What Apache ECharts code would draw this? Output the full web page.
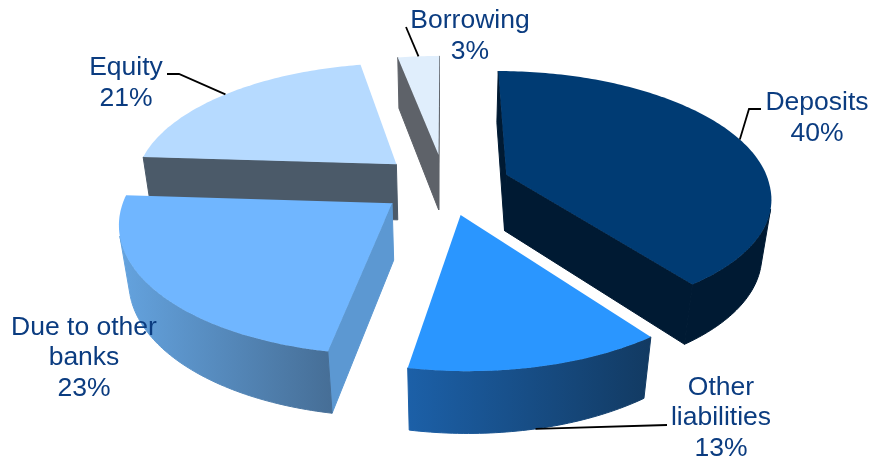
<!DOCTYPE html>
<html>
<head>
<meta charset="utf-8">
<style>html,body{margin:0;padding:0;background:#fff}#chart{width:871px;height:460px}</style>
<script src="https://cdn.jsdelivr.net/npm/echarts@6/dist/echarts.min.js"></script>
</head>
<body>
<div id="chart"></div>
<script>
// Funding mix, in percent, clockwise from twelve o'clock
const categories = ['Deposits', 'Other\nliabilities', 'Due to other\nbanks', 'Equity', 'Borrowing'];
const shares = [40, 13, 23, 21, 3];

// Fill colours per slice
const topColors = ['#003B73', '#2A96FF', '#70B6FF', '#B6DAFF', '#E0EEFC'];
const cutColors = ['#001A33', '#1C5FA3', '#5C98D2', '#4B5A69', '#5E6269'];
const rimFrom = ['#001A33', '#1C60A8', '#64A3DF', '#4B5A69', '#5E6269'];
const rimTo = ['#001A33', '#123A62', '#466E96', '#4B5A69', '#5E6269'];

// Label centre and leader elbow for each slice
const labelLayout = [
  { x: 817, y: 118, elbow: [[749, 109], [761, 109]] },
  { x: 721, y: 418, elbow: [[667, 425]], onBase: true },
  { x: 84, y: 358, elbow: null },
  { x: 126, y: 83, elbow: [[179, 74], [167, 74]] },
  { x: 470, y: 36, elbow: [[406, 27]] }
];

// Perspective camera for the tilted pie; skew leans the near half slightly right
const view = { cx: 444.5, cy: 184, rx: 263, ry: 122, depth: 58, k: 0.152, m: 0.03, explode: 0.25, skew: 5 };

const total = shares.reduce((a, b) => a + b, 0);
const startAngle = [];
shares.reduce((acc, v, i) => { startAngle[i] = acc; return acc + v / total * 360; }, 0);
const rad = d => d * Math.PI / 180;

function project(X, Y, base) {
  const w = 1 - view.k * Y + (base ? view.m : 0);
  return [
    view.cx + view.rx * X / w + view.skew * Math.max(Y, 0),
    view.cy + (view.ry * Y + (base ? view.depth : 0)) / w
  ];
}
function sliceOffset(i) {
  const mid = rad(startAngle[i] + shares[i] / total * 180);
  return [view.explode * Math.sin(mid), -view.explode * Math.cos(mid)];
}
function rimPoint(i, deg, base) {
  const o = sliceOffset(i);
  return project(o[0] + Math.sin(rad(deg)), o[1] - Math.cos(rad(deg)), base);
}
function apexPoint(i, base) {
  const o = sliceOffset(i);
  return project(o[0], o[1], base);
}
function signedArea(p) {
  let s = 0;
  p.forEach((a, j) => { const b = p[(j + 1) % p.length]; s += a[0] * b[1] - b[0] * a[1]; });
  return s / 2;
}
const polygon = (points, fill, stroke) => ({
  type: 'polygon',
  shape: { points },
  style: { fill, stroke: stroke || null, lineWidth: stroke ? 1 : 0, lineJoin: 'round' }
});

function renderSlice(params, api) {
  const i = api.value(0);
  const sweep = api.value(1) / total * 360;
  const from = startAngle[i];
  const steps = Math.max(2, Math.ceil(sweep));
  const angles = [];
  for (let s = 0; s <= steps; s++) angles.push(from + sweep * s / steps);
  const topRim = angles.map(a => rimPoint(i, a, false));
  const baseRim = angles.map(a => rimPoint(i, a, true));
  const apexTop = apexPoint(i, false);
  const apexBase = apexPoint(i, true);
  const children = [];

  // Radial cut faces, kept only when they turn towards the viewer
  [[apexTop, topRim[0], baseRim[0], apexBase],
   [topRim[steps], apexTop, apexBase, baseRim[steps]]].forEach(q => {
    if (signedArea(q) < 0) children.push(polygon(q, cutColors[i], cutColors[i]));
  });

  // Visible stretches of the curved outer wall
  let run = [];
  const flush = () => {
    if (run.length < 2) { run = []; return; }
    const tops = run.map(s => topRim[s]);
    const bases = run.map(s => baseRim[s]).reverse();
    const pts = tops.concat(bases);
    const xs = pts.map(p => p[0]);
    const x0 = Math.min.apply(null, xs), x1 = Math.max.apply(null, xs);
    const shade = new echarts.graphic.LinearGradient(x0, 0, x1, 0, [
      { offset: 0, color: rimFrom[i] }, { offset: 1, color: rimTo[i] }
    ], true);
    children.push(polygon(pts, shade, shade));
    run = [];
  };
  for (let s = 0; s < steps; s++) {
    const q = [topRim[s], topRim[s + 1], baseRim[s + 1], baseRim[s]];
    if (signedArea(q) < 0) {
      if (!run.length) run.push(s);
      run.push(s + 1);
    } else flush();
  }
  flush();

  // Top face
  children.push(polygon([apexTop].concat(topRim), topColors[i]));
  return { type: 'group', children };
}

function renderLabel(params, api) {
  const i = api.value(0);
  const layout = labelLayout[i];
  const children = [];
  if (layout.elbow) {
    const anchor = rimPoint(i, startAngle[i] + api.value(1) / total * 180, !!layout.onBase);
    children.push({
      type: 'polyline',
      shape: { points: [anchor].concat(layout.elbow) },
      style: { stroke: '#000', lineWidth: 1.8, fill: null }
    });
  }
  children.push({
    type: 'text',
    style: {
      text: categories[i] + '\n' + api.value(1) + '%',
      x: layout.x, y: layout.y,
      fill: '#0B3C80',
      font: '26.5px "Liberation Sans", Arial, sans-serif',
      lineHeight: 30.8,
      align: 'center',
      verticalAlign: 'middle'
    }
  });
  return { type: 'group', children };
}

// Far slices are painted first so nearer ones overlap them
const paintOrder = categories.map((_, i) => i).sort((a, b) => sliceOffset(a)[1] - sliceOffset(b)[1]);
const seriesData = paintOrder.map(i => ({ name: categories[i], value: [i, shares[i]] }));

const chart = echarts.init(document.getElementById('chart'), null, { renderer: 'canvas' });
chart.setOption({
  animation: false,
  backgroundColor: '#ffffff',
  series: [
    { type: 'custom', coordinateSystem: 'none', renderItem: renderSlice, data: seriesData, silent: true, z: 1 },
    { type: 'custom', coordinateSystem: 'none', renderItem: renderLabel, data: seriesData, silent: true, z: 2 }
  ]
});
</script>
</body>
</html>
